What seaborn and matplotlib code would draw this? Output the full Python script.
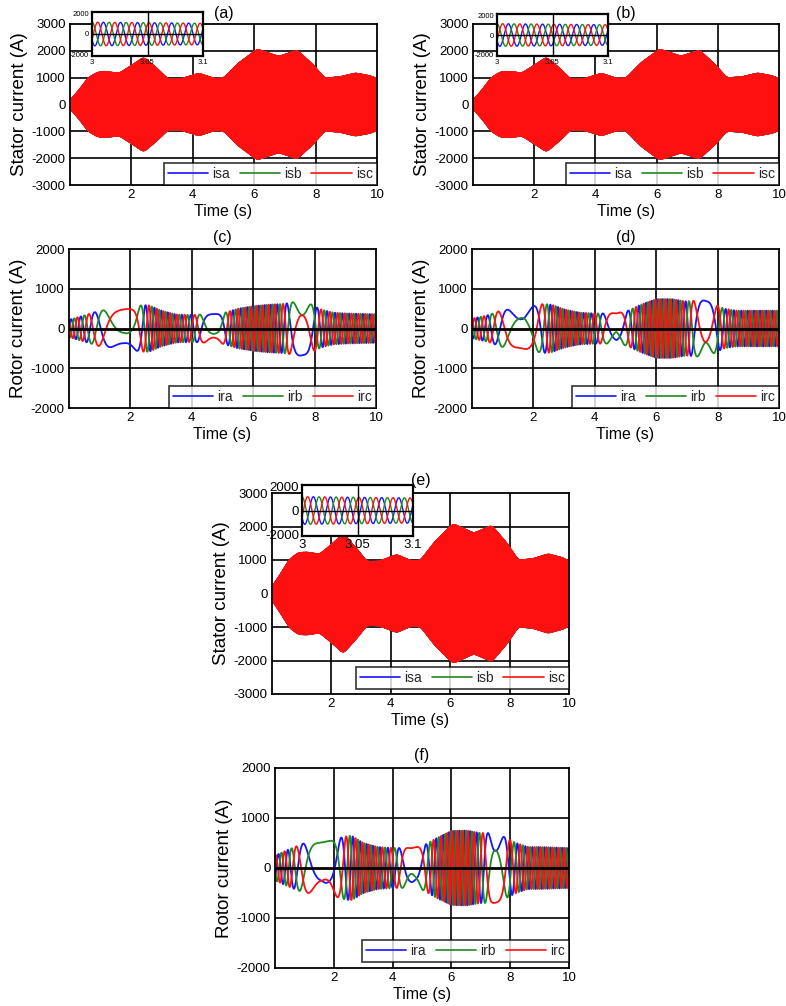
import numpy as np
import pandas as pd
import matplotlib
matplotlib.use("Agg")
import matplotlib.pyplot as plt
import seaborn as sns
from matplotlib.lines import Line2D

# ---------------- data ----------------
# stator current envelope (A) at knot times (s)
STATOR_T = [0, 0.3, 0.6, 0.9, 1.2, 1.6, 2.0, 2.4, 2.8, 3.2, 3.6, 4.2, 4.7, 5.0, 5.5, 6.1, 6.8, 7.4, 7.9, 8.3, 8.8, 9.3, 9.8, 10]
STATOR_ENV_A = [150, 550, 1000, 1200, 1220, 1160, 1450, 1760, 1380, 940, 950, 1160, 970, 980, 1550, 2060, 1790, 2020, 1500, 980, 1030, 1170, 1060, 960]
STATOR_ENV_B = [150, 550, 1000, 1210, 1230, 1170, 1460, 1760, 1380, 940, 950, 1160, 970, 980, 1560, 2060, 1800, 2020, 1500, 990, 1030, 1170, 1060, 960]
STATOR_ENV_E = [200, 600, 1030, 1220, 1230, 1170, 1460, 1780, 1390, 950, 960, 1160, 970, 990, 1560, 2080, 1800, 2030, 1510, 990, 1040, 1180, 1060, 960]
STATOR_FREQ_HZ = 65

# rotor current envelope (A)
ROTOR_AMP_T = [0, 0.5, 1.0, 1.5, 2.0, 2.3, 2.6, 3.0, 3.5, 4.0, 4.5, 5.0, 5.5, 6.0, 6.5, 7.0, 7.5, 7.8, 8.2, 8.6, 9.0, 10]
ROTOR_AMP_C = [220, 330, 450, 480, 520, 580, 590, 450, 350, 340, 360, 380, 500, 560, 600, 620, 690, 640, 480, 400, 380, 360]
ROTOR_AMP_D = [250, 330, 470, 480, 560, 620, 600, 480, 400, 380, 380, 420, 600, 740, 740, 680, 720, 650, 500, 450, 450, 450]
ROTOR_AMP_F = [250, 380, 500, 500, 560, 620, 650, 500, 420, 400, 400, 430, 600, 740, 750, 700, 700, 620, 500, 420, 420, 400]

# rotor current (signed) frequency (Hz)
ROTOR_F_T_C = [0, 0.4, 0.8, 1.2, 1.5, 1.8, 2.1, 2.3, 2.6, 3.0, 3.5, 4.0, 4.3, 4.6, 4.8, 5.0, 5.3, 6.0, 6.6, 7.0, 7.3, 7.6, 7.9, 8.3, 9.0, 10]
ROTOR_F_C = [3.5, 3.0, 1.5, 0.8, 0.3, 0.0, -0.5, -1.5, -3.5, -5.0, -4.5, -3.0, -1.5, -0.3, 0.0, 1.2, 3.5, 5.5, 5.0, 3.0, 1.0, 0.0, -1.2, -3.5, -4.5, -4.5]
ROTOR_F_T_D = [0, 0.4, 0.8, 1.2, 1.6, 2.0, 2.3, 2.6, 3.0, 3.5, 4.0, 4.3, 4.7, 5.0, 5.4, 6.0, 6.6, 7.0, 7.3, 7.6, 7.9, 8.3, 9.0, 10]
ROTOR_F_D = [3.5, 3.0, 1.5, 0.7, 0.0, -0.5, -1.5, -3.5, -5.0, -4.5, -3.0, -1.2, 0.0, 1.2, 3.5, 6.0, 5.5, 3.0, 1.0, 0.0, -1.2, -3.5, -5.0, -5.0]
ROTOR_F_T_F = [0, 0.4, 0.8, 1.1, 1.4, 1.6, 1.9, 2.2, 2.6, 3.0, 3.5, 4.0, 4.4, 4.7, 5.0, 5.4, 6.0, 6.6, 7.0, 7.3, 7.5, 7.8, 8.3, 9.0, 10]
ROTOR_F_F = [3.5, 3.0, 1.5, 0.8, 0.3, 0.0, -0.5, -1.5, -3.5, -5.0, -4.5, -3.0, -1.2, 0.0, 1.2, 3.5, 6.0, 5.5, 3.0, 1.2, 0.0, -1.2, -3.5, -5.0, -5.0]
# phase of phase-a (rad) at the slow, near-synchronous moments (s)
ROTOR_PHASE_T_C = [1.8, 4.8, 7.6]
ROTOR_PHASE_C = [-2.4, 0.2, 3.14]
ROTOR_PHASE_T_D = [1.7, 4.7, 7.6]
ROTOR_PHASE_D = [1.05, -2.4, 0.0]
ROTOR_PHASE_T_F = [1.6, 4.75, 7.5]
ROTOR_PHASE_F = [2.09, -2.2, 1.05]

STATOR_LABELS = ["isa", "isb", "isc"]
ROTOR_LABELS = ["ira", "irb", "irc"]
COLORS = ["#1515ff", "#1f8a1f", "#ff1010"]
X_TICKS = [2, 4, 6, 8, 10]
STATOR_Y_TICKS = [-3000, -2000, -1000, 0, 1000, 2000, 3000]
ROTOR_Y_TICKS = [-2000, -1000, 0, 1000, 2000]
INSET_X_TICKS = [3, 3.05, 3.1]
INSET_X_LABELS = ["3", "3.05", "3.1"]
INSET_Y_TICKS = [-2000, 0, 2000]

# ---------------- helpers ----------------
def smooth_curve(tk, vk, t, width):
    y = np.interp(t, tk, vk)
    n = max(3, int(width / (t[1] - t[0])))
    k = np.hanning(n)
    k /= k.sum()
    yp = np.pad(y, n, mode="edge")
    return np.convolve(yp, k, mode="same")[n:-n]

def stator_frame(env):
    t = np.linspace(0, 10, 24001)
    A = smooth_curve(STATOR_T, env, t, 0.3)
    ph = 2 * np.pi * STATOR_FREQ_HZ * t + 2 * np.pi / 3
    rows = []
    for k, lab in enumerate(STATOR_LABELS):
        rows.append(pd.DataFrame({"t": t, "i": A * np.cos(ph - 2 * np.pi * k / 3), "phase": lab}))
    return pd.concat(rows, ignore_index=True)

def rotor_frame(amp, ft, fv, pt, pv):
    t = np.linspace(0, 10, 12001)
    A = smooth_curve(ROTOR_AMP_T, amp, t, 0.3)
    f = smooth_curve(ft, fv, t, 0.3)
    ph = 2 * np.pi * np.cumsum(f) * (t[1] - t[0])
    raw = np.interp(pt, t, ph)
    d = np.angle(np.exp(1j * (np.array(pv) - raw)))
    ph = ph + np.interp(t, pt, d)
    rows = []
    for k, lab in enumerate(ROTOR_LABELS):
        rows.append(pd.DataFrame({"t": t, "i": A * np.cos(ph - 2 * np.pi * k / 3), "phase": lab}))
    return pd.concat(rows, ignore_index=True)

# ---------------- figure ----------------
sns.set_theme(style="white")
plt.rcParams["font.family"] = ["Liberation Sans", "DejaVu Sans"]
plt.rcParams["axes.unicode_minus"] = False
W, H = 786, 1006
fig = plt.figure(figsize=(W / 100, H / 100), dpi=100)

def rect(l, t, r, b):
    return [l / W, 1 - b / H, (r - l) / W, (b - t) / H]

def style_axes(ax, yticks, ylim, ylabel, title, title_pad, zero_line=False):
    ax.set_xlim(0, 10)
    ax.set_ylim(*ylim)
    ax.set_xticks(X_TICKS)
    ax.set_yticks(yticks)
    ax.tick_params(axis="both", labelsize=9.5, length=0, pad=3, colors="black")
    for x in X_TICKS[:-1]:
        ax.axvline(x, color="black", lw=1.2, zorder=0.5)
    for y in yticks[1:-1]:
        if zero_line and y == 0:
            continue
        ax.axhline(y, color="black", lw=1.2, zorder=0.5)
    if zero_line:
        ax.axhline(0, color="black", lw=2.0, zorder=5)
    for s in ax.spines.values():
        s.set_color("black")
        s.set_linewidth(1.3)
    ax.set_xlabel("Time (s)", fontsize=11.5, labelpad=2, color="black")
    ax.set_ylabel(ylabel, fontsize=13.5, labelpad=3, color="black")
    ax.set_title(title, fontsize=11.5, pad=title_pad, color="black")

def add_legend(ax, labels, anchor_y=0.0):
    handles = [Line2D([0], [0], color=c, lw=1.2) for c in COLORS]
    leg = ax.legend(handles, labels, loc="lower right", bbox_to_anchor=(1.0, anchor_y),
                    ncol=3, frameon=True, fancybox=False, borderaxespad=0,
                    fontsize=10, handlelength=2.9, handletextpad=0.3,
                    columnspacing=0.7, borderpad=0.3)
    leg.get_frame().set_edgecolor("black")
    leg.get_frame().set_linewidth(1.2)
    leg.set_zorder(10)

def draw(ax, df, labels, lw):
    sns.lineplot(data=df, x="t", y="i", hue="phase", hue_order=labels,
                 palette=dict(zip(labels, COLORS)), estimator=None, sort=False,
                 lw=lw, ax=ax, legend=False, zorder=2)

def add_inset(r, df, fs, pad):
    ins = fig.add_axes(rect(*r))
    sub = df[(df.t >= 2.999) & (df.t <= 3.101)]
    sns.lineplot(data=sub, x="t", y="i", hue="phase", hue_order=STATOR_LABELS,
                 palette=dict(zip(STATOR_LABELS, COLORS)), estimator=None, sort=False,
                 lw=1.0, ax=ins, legend=False)
    ins.set_xlim(3.0, 3.1)
    ins.set_ylim(-2150, 2150)
    ins.set_xticks(INSET_X_TICKS)
    ins.set_xticklabels(INSET_X_LABELS)
    ins.set_yticks(INSET_Y_TICKS)
    ins.tick_params(axis="both", labelsize=fs, length=0, pad=pad, colors="black")
    ins.axvline(3.05, color="black", lw=1.0)
    ins.axhline(0, color="black", lw=1.0)
    ins.set_xlabel("")
    ins.set_ylabel("")
    ins.set_facecolor("white")
    for s in ins.spines.values():
        s.set_color("black")
        s.set_linewidth(1.6)

# (a)
dfa = stator_frame(STATOR_ENV_A)
ax = fig.add_axes(rect(70, 24, 377, 185))
draw(ax, dfa, STATOR_LABELS, 1.0)
style_axes(ax, STATOR_Y_TICKS, (-3000, 3000), "Stator current (A)", "(a)", 4)
add_legend(ax, STATOR_LABELS)
add_inset((92, 12, 203, 56), dfa, 5.5, 2)

# (b)
dfb = stator_frame(STATOR_ENV_B)
ax = fig.add_axes(rect(473, 24, 779, 185))
draw(ax, dfb, STATOR_LABELS, 1.0)
style_axes(ax, STATOR_Y_TICKS, (-3000, 3000), "Stator current (A)", "(b)", 4)
add_legend(ax, STATOR_LABELS)
add_inset((497, 14, 608, 56), dfb, 5.5, 2)

# (c)
dfc = rotor_frame(ROTOR_AMP_C, ROTOR_F_T_C, ROTOR_F_C, ROTOR_PHASE_T_C, ROTOR_PHASE_C)
ax = fig.add_axes(rect(69, 249, 376, 408))
draw(ax, dfc, ROTOR_LABELS, 1.3)
style_axes(ax, ROTOR_Y_TICKS, (-2000, 2000), "Rotor current (A)", "(c)", 5, zero_line=True)
add_legend(ax, ROTOR_LABELS)

# (d)
dfd = rotor_frame(ROTOR_AMP_D, ROTOR_F_T_D, ROTOR_F_D, ROTOR_PHASE_T_D, ROTOR_PHASE_D)
ax = fig.add_axes(rect(472, 249, 779, 408))
draw(ax, dfd, ROTOR_LABELS, 1.3)
style_axes(ax, ROTOR_Y_TICKS, (-2000, 2000), "Rotor current (A)", "(d)", 5, zero_line=True)
add_legend(ax, ROTOR_LABELS)

# (e)
dfe = stator_frame(STATOR_ENV_E)
ax = fig.add_axes(rect(272, 493, 569, 694))
draw(ax, dfe, STATOR_LABELS, 1.0)
style_axes(ax, STATOR_Y_TICKS, (-3000, 3000), "Stator current (A)", "(e)", 6)
add_legend(ax, STATOR_LABELS, anchor_y=0.025)
add_inset((302, 485, 413, 536), dfe, 9.5, 2)

# (f)
dff = rotor_frame(ROTOR_AMP_F, ROTOR_F_T_F, ROTOR_F_F, ROTOR_PHASE_T_F, ROTOR_PHASE_F)
ax = fig.add_axes(rect(275, 768, 569, 968))
draw(ax, dff, ROTOR_LABELS, 1.3)
style_axes(ax, ROTOR_Y_TICKS, (-2000, 2000), "Rotor current (A)", "(f)", 6, zero_line=True)
add_legend(ax, ROTOR_LABELS, anchor_y=0.03)

fig.savefig("out.png", dpi=100)
